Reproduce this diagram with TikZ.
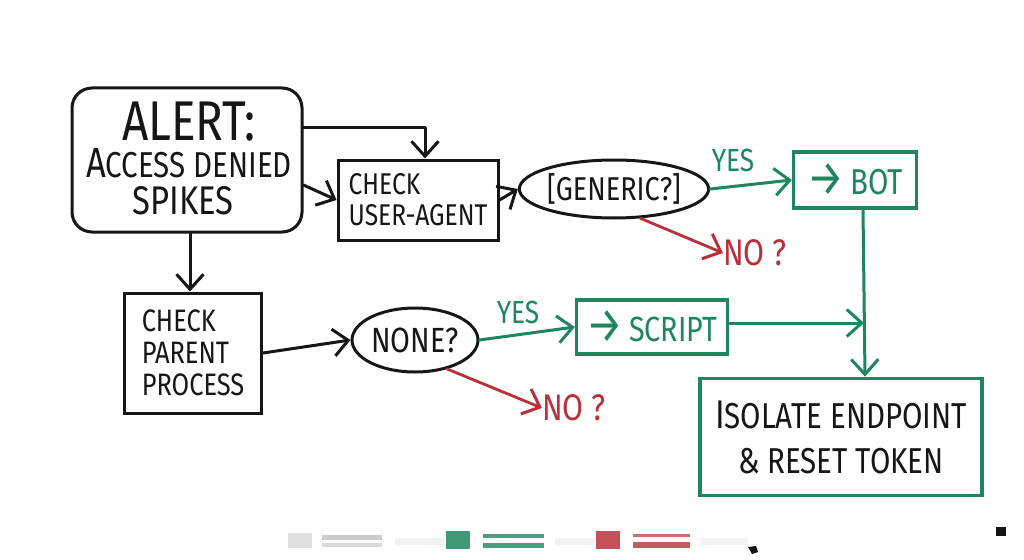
\documentclass[tikz,border=0pt]{standalone}
\usepackage{fontspec}
\setmainfont{Fira Sans}[FakeStretch=0.82]
\usetikzlibrary{arrows.meta,shapes.geometric,calc}
\definecolor{mgreen}{RGB}{30,134,92}
\definecolor{mred}{RGB}{184,48,58}
\definecolor{ink}{RGB}{22,22,22}
\newcommand{\fs}[1]{\fontsize{#1}{#1}\selectfont}
\newcommand{\rarr}{{\fs{50}\raisebox{-1pt}{→}}}
\begin{document}
\begin{tikzpicture}[x=1pt,y=-1pt,
  tip/.style={-{Straight Barb[length=15pt,width=27pt,line width=3pt]}},
  blkline/.style={draw=ink,line width=3pt,line cap=round,line join=round},
  grnline/.style={draw=mgreen,line width=3pt,line cap=round,line join=round},
  redline/.style={draw=mred,line width=2.8pt,line cap=round},
  boxb/.style={draw=ink,line width=3pt,rectangle,inner sep=0pt,align=center,text=ink},
  boxg/.style={draw=mgreen,line width=3.2pt,rectangle,inner sep=0pt,align=center,text=mgreen},
  ell/.style={draw=ink,line width=3pt,ellipse,inner sep=0pt,text=ink},
  lblg/.style={text=mgreen,inner sep=0pt},
  lblr/.style={text=mred,inner sep=0pt},
]
\useasboundingbox (0,0) rectangle (1024,559);
\fill[white] (0,0) rectangle (1024,559);

% nodes
\node[boxb,rounded corners=20pt,minimum width=230pt,minimum height=144pt] (alert) at (187,160) {};
\node[text=ink,inner sep=0pt] (t1) at (189,122) {\fs{56}ALERT:};
\node[text=ink,inner sep=0pt] (t2) at (189,163) {\fs{42}A\fs{36}CCESS DENIED};
\node[text=ink,inner sep=0pt] (t3) at (183,201) {\fs{40}SPIKES};

\node[boxb,minimum width=160pt,minimum height=80pt,font=\fs{30},align=left] (ua) at (418,200) {CHECK\\[1pt]USER-AGENT};
\node[ell,minimum width=148pt,minimum height=58pt,font=\fs{33}] (gen) at (614,189) {[GENERIC?]};
\node[boxg,minimum width=123pt,minimum height=56pt,font=\fs{36}] (bot) at (855,180) {\rarr\,BOT};
\node[lblg,font=\fs{32}] (yes1) at (733,160) {YES};
\node[lblr,font=\fs{37}] (noa) at (755,253) {NO ?};

\node[boxb,minimum width=137pt,minimum height=120pt,font=\fs{31},align=left] (pp) at (193,353) {CHECK\\[1pt]PARENT\\[1pt]PROCESS};
\node[ell,minimum width=126pt,minimum height=64pt,font=\fs{35}] (none) at (415,340) {NONE?};
\node[boxg,minimum width=151pt,minimum height=54pt,font=\fs{35}] (script) at (652,327) {\rarr\,SCRIPT};
\node[lblg,font=\fs{32}] (yes2) at (518,312) {YES};
\node[lblr,font=\fs{37}] (nob) at (574,408) {NO ?};

\node[boxg,line width=3.8pt,minimum width=282pt,minimum height=117pt,text=ink,font=\fs{36}] (iso) at (841,437) {\fs{40}I\fs{36}SOLATE ENDPOINT\\[9pt]\& RESET TOKEN};

\coordinate (j) at (864,323);

% connectors
\draw[blkline,tip] ([yshift=33pt]alert.east) -| ([xshift=7pt]ua.north);
\draw[blkline,tip] ([yshift=-25pt]alert.east) -- (ua.west);
\draw[blkline,tip] ([xshift=3pt]alert.south) -- ([xshift=-3pt]pp.north);
\draw[blkline,tip] (ua.east) -- (gen.west);
\draw[grnline,tip] (gen.east) -- (bot.west);
\draw[redline,tip] (gen.-48) -- (noa.west);
\draw[blkline,tip] (pp.east) -- (none.west);
\draw[grnline,tip] (none.east) -- (script.west);
\draw[redline,tip] (none.-42) -- (nob.west);
\draw[grnline,tip] ([yshift=4pt]script.east) -- (j);
\draw[grnline,tip] ([xshift=8pt]bot.south) -- ([xshift=24pt]iso.north);

% markers on the ledge
\fill[gray!25] (288,533) rectangle (312,548);
\fill[gray!40] (322,535) rectangle (382,540);
\fill[gray!30] (322,543) rectangle (382,547);
\fill[gray!10] (395,538) rectangle (445,545);
\fill[mgreen!85] (446,531) rectangle (470,549);
\fill[mgreen!80] (483,534) rectangle (544,538);
\fill[mgreen!80] (483,543) rectangle (544,548);
\fill[gray!10] (555,538) rectangle (595,545);
\fill[mred!85] (596,531) rectangle (620,549);
\fill[mred!70] (633,534) rectangle (690,537);
\fill[mred!80] (633,542) rectangle (690,548);
\fill[gray!10] (700,538) rectangle (748,545);
\fill[ink] (748,547) -- (756,546) -- (758,552) -- (752,554) -- cycle;
\fill[ink] (996,527) rectangle (1006,536);
\end{tikzpicture}
\end{document}
